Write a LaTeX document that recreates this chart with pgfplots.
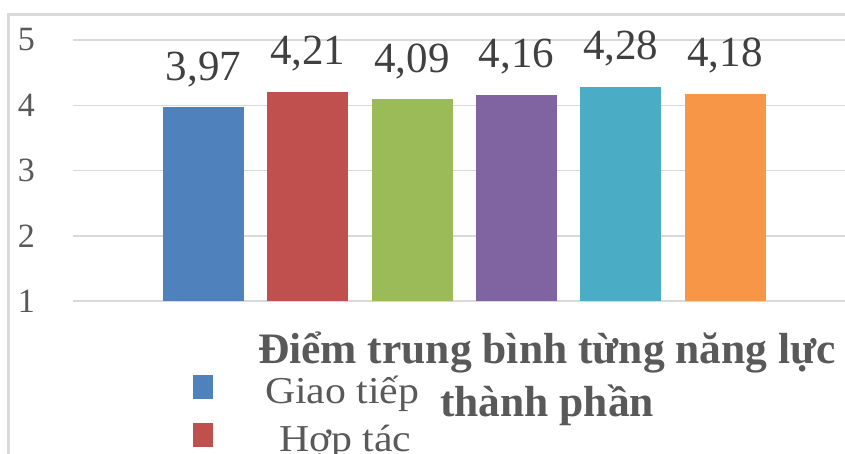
\documentclass[border=0pt]{standalone}
\usepackage{fontspec}
\setmainfont{Liberation Serif}
\usepackage{graphicx}
\usepackage{pgfplots}
\pgfplotsset{compat=1.18}
\definecolor{c1}{HTML}{4F81BD}
\definecolor{c2}{HTML}{C0504D}
\definecolor{c3}{HTML}{9BBB59}
\definecolor{c4}{HTML}{8064A2}
\definecolor{c5}{HTML}{4BACC6}
\definecolor{c6}{HTML}{F79646}
\definecolor{gridc}{HTML}{D9D9D9}
\definecolor{txt}{HTML}{595959}
\definecolor{txtd}{HTML}{404040}
\begin{document}
\begin{tikzpicture}[x=1pt,y=1pt]
\useasboundingbox (0,0) rectangle (845,453);
\draw[gridc, line width=3pt] (8.5,-10) -- (8.5,438.5) -- (860,438.5);
\begin{axis}[
  at={(73pt,152pt)}, anchor=south west,
  scale only axis, width=772pt, height=261pt,
  xmin=-1.251, xmax=6.150, ymin=1, ymax=5,
  ytick={1,2,3,4,5}, xtick=\empty,
  /pgf/number format/assume math mode=true,
  axis line style={draw=none},
  ymajorgrids, grid style={gridc, line width=1.5pt},
  major tick length=0pt,
  yticklabel style={font=\fontsize{34}{34}\selectfont, text=txt, anchor=east, inner sep=0pt, xshift=-38pt},
  ybar, bar width=81pt, bar shift=0pt,
  legend image code/.code={\fill[#1, draw=none] (0pt,-3pt) rectangle (20pt,21pt);},
  nodes near coords={\pgfmathprintnumber[fixed, fixed zerofill, precision=2, use comma]{\pgfplotspointmeta}},
  every node near coord/.append style={font=\fontsize{43}{43}\selectfont, text=txtd, anchor=base, yshift=27pt},
  title={Điểm trung bình từng năng lực\\thành phần},
  title style={font=\bfseries\fontsize{43.5}{53}\selectfont, text=txt, align=center, at={(0.614,-0.4674)}, anchor=base},
  legend cell align=left,
  legend style={draw=none, fill=none, at={(0.1514,-0.2755)}, anchor=north west,
    font=\fontsize{38}{38}\selectfont, text=txt,
    nodes={inner sep=0pt, text height=24pt, text depth=9pt},
    row sep=10pt,
    /tikz/every odd column/.append style={column sep=52pt}},
]
\addplot[fill=c1, draw=none] coordinates {(0,3.97)};
\addplot[fill=c2, draw=none] coordinates {(1,4.21)};
\addplot[fill=c3, draw=none] coordinates {(2,4.09)};
\addplot[fill=c4, draw=none] coordinates {(3,4.16)};
\addplot[fill=c5, draw=none] coordinates {(4,4.28)};
\addplot[fill=c6, draw=none] coordinates {(5,4.18)};
\legend{\scalebox{1.1}[1]{Giao tiếp},\hspace{14pt}\scalebox{1.1}[1]{Hợp tác}}
\end{axis}
\end{tikzpicture}
\end{document}
